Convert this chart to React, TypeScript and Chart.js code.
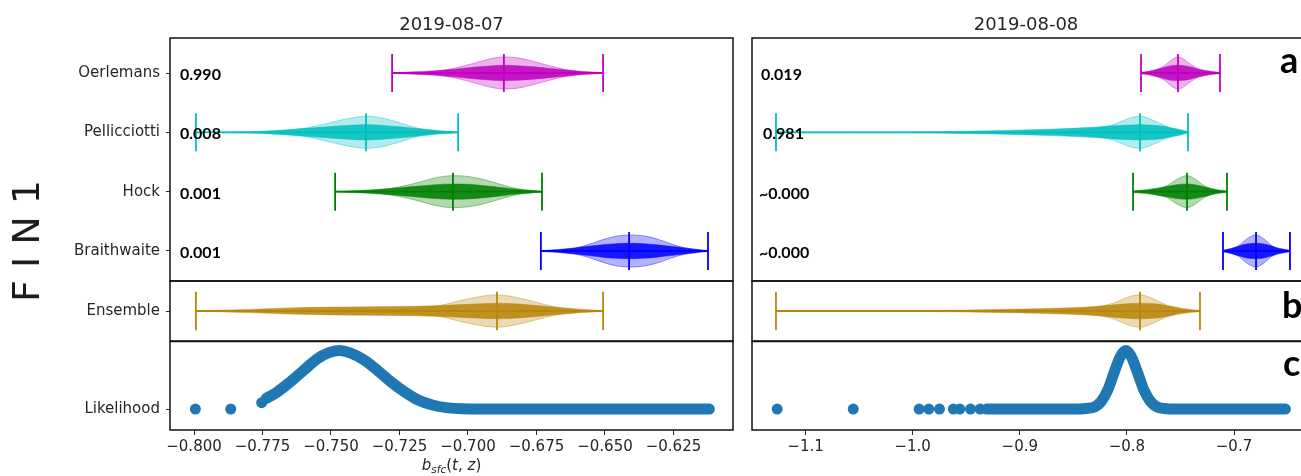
import React, { useEffect, useRef } from 'react';
import { Chart, registerables } from 'chart.js';

Chart.register(...registerables);

// ---------------- data ----------------
const MODELS = ['Oerlemans', 'Pellicciotti', 'Hock', 'Braithwaite'];
const MODEL_COLORS = ['#bf00bf', '#00bfbf', '#008000', '#0000ff'];
const ENSEMBLE_COLOR = '#b8860b';
const LIKELIHOOD_COLOR = '#1f77b4';
const DATES = ['2019-08-07', '2019-08-08'];
const LEFT_TICKS = [-0.8, -0.775, -0.75, -0.725, -0.7, -0.675, -0.65, -0.625];
const RIGHT_TICKS = [-1.1, -1.0, -0.9, -0.8, -0.7];
const PROB_LEFT = ['0.990', '0.008', '0.001', '0.001'];
const PROB_RIGHT = ['0.019', '0.981', '~0.000', '~0.000'];
const PANEL_LETTERS = ['a', 'b', 'c'];

// axis value ranges
const X_LEFT = { min: -0.80876, max: -0.60328 };
const X_RIGHT = { min: -1.15, max: -0.6426 };

// [min, median, max] of each violin
const STATS_LEFT = [
  [-0.7277, -0.6869, -0.6507],
  [-0.7993, -0.7372, -0.7036],
  [-0.7485, -0.7055, -0.673],
  [-0.6734, -0.6412, -0.6124],
];
const ENS_STATS_LEFT = [-0.7993, -0.6894, -0.6507];
const STATS_RIGHT = [
  [-0.7898, -0.7556, -0.7167],
  [-1.1278, -0.7907, -0.7463],
  [-0.7972, -0.7472, -0.7102],
  [-0.7139, -0.6833, -0.6519],
];
const ENS_STATS_RIGHT = [-1.1278, -0.7907, -0.7352];

// violin profiles: x, relative KDE width (body), relative sample density (core)
const L_OERL_X = [-0.7277, -0.72, -0.712, -0.705, -0.698, -0.692, -0.687, -0.682, -0.676, -0.67, -0.664, -0.658, -0.6507];
const L_OERL_BODY = [0, 0.02, 0.1, 0.3, 0.6, 0.88, 1.0, 0.95, 0.72, 0.44, 0.2, 0.05, 0];
const L_OERL_CORE = [0.05, 0.15, 0.3, 0.5, 0.75, 0.92, 1.0, 0.95, 0.8, 0.6, 0.4, 0.2, 0.05];

const L_PELL_X = [-0.7993, -0.785, -0.775, -0.766, -0.758, -0.75, -0.743, -0.737, -0.731, -0.724, -0.717, -0.71, -0.7036];
const L_PELL_BODY = [0, 0.01, 0.03, 0.1, 0.3, 0.62, 0.88, 1.0, 0.88, 0.55, 0.2, 0.05, 0];
const L_PELL_CORE = [0.02, 0.05, 0.15, 0.35, 0.55, 0.75, 0.92, 1.0, 0.9, 0.7, 0.45, 0.2, 0.05];

const L_HOCK_X = [-0.7485, -0.74, -0.732, -0.725, -0.718, -0.712, -0.7055, -0.7, -0.694, -0.688, -0.682, -0.676, -0.673];
const L_HOCK_BODY = [0, 0.03, 0.12, 0.3, 0.58, 0.86, 1.0, 0.95, 0.75, 0.45, 0.18, 0.04, 0];
const L_HOCK_CORE = [0.05, 0.15, 0.3, 0.5, 0.72, 0.9, 1.0, 0.95, 0.78, 0.55, 0.32, 0.15, 0.05];

const L_BRAI_X = [-0.6734, -0.667, -0.661, -0.656, -0.651, -0.646, -0.6412, -0.636, -0.631, -0.626, -0.621, -0.616, -0.6124];
const L_BRAI_BODY = [0, 0.05, 0.18, 0.4, 0.7, 0.92, 1.0, 0.95, 0.75, 0.45, 0.2, 0.05, 0];
const L_BRAI_CORE = [0.05, 0.2, 0.4, 0.6, 0.8, 0.95, 1.0, 0.95, 0.8, 0.6, 0.4, 0.2, 0.05];

const L_ENS_X = [-0.7993, -0.78, -0.765, -0.75, -0.735, -0.72, -0.71, -0.7, -0.6894, -0.68, -0.672, -0.665, -0.658, -0.6507];
const L_ENS_BODY = [0, 0.01, 0.03, 0.05, 0.08, 0.15, 0.35, 0.75, 1.0, 0.75, 0.4, 0.15, 0.03, 0];
const L_ENS_CORE = [0.02, 0.2, 0.4, 0.5, 0.55, 0.6, 0.7, 0.85, 1.0, 0.85, 0.6, 0.4, 0.2, 0.05];

const R_OERL_X = [-0.7898, -0.782, -0.775, -0.768, -0.762, -0.7556, -0.75, -0.744, -0.738, -0.731, -0.724, -0.7167];
const R_OERL_BODY = [0, 0.05, 0.2, 0.45, 0.8, 1.0, 0.85, 0.55, 0.3, 0.1, 0.03, 0];
const R_OERL_CORE = [0.1, 0.25, 0.5, 0.75, 0.95, 1.0, 0.95, 0.8, 0.55, 0.35, 0.2, 0.08];

const R_PELL_X = [-1.1278, -1.0, -0.95, -0.9, -0.87, -0.85, -0.83, -0.815, -0.8, -0.7907, -0.782, -0.772, -0.762, -0.752, -0.7463];
const R_PELL_BODY = [0, 0, 0.005, 0.02, 0.05, 0.1, 0.25, 0.5, 0.9, 1.0, 0.85, 0.55, 0.25, 0.06, 0];
const R_PELL_CORE = [0, 0.05, 0.15, 0.3, 0.42, 0.55, 0.7, 0.85, 0.95, 1.0, 0.95, 0.85, 0.6, 0.3, 0.1];

const R_HOCK_X = [-0.7972, -0.785, -0.775, -0.765, -0.757, -0.7472, -0.74, -0.733, -0.726, -0.719, -0.7102];
const R_HOCK_BODY = [0, 0.04, 0.15, 0.4, 0.75, 1.0, 0.8, 0.45, 0.2, 0.05, 0];
const R_HOCK_CORE = [0.1, 0.25, 0.45, 0.7, 0.9, 1.0, 0.9, 0.7, 0.45, 0.25, 0.08];

const R_BRAI_X = [-0.7139, -0.706, -0.699, -0.692, -0.6833, -0.676, -0.669, -0.662, -0.6519];
const R_BRAI_BODY = [0, 0.1, 0.35, 0.75, 1.0, 0.75, 0.35, 0.1, 0];
const R_BRAI_CORE = [0.1, 0.35, 0.65, 0.9, 1.0, 0.9, 0.65, 0.35, 0.1];

const R_ENS_X = [-1.1278, -1.0, -0.95, -0.9, -0.87, -0.85, -0.83, -0.815, -0.8, -0.7907, -0.782, -0.772, -0.762, -0.75, -0.7352];
const R_ENS_BODY = [0, 0, 0.005, 0.02, 0.05, 0.1, 0.25, 0.5, 0.9, 1.0, 0.85, 0.55, 0.25, 0.06, 0];
const R_ENS_CORE = [0, 0.05, 0.12, 0.25, 0.35, 0.45, 0.6, 0.8, 0.95, 1.0, 0.95, 0.85, 0.6, 0.3, 0.08];

// likelihood (relative)
const LIK_L_DOTS_X = [-0.7995, -0.7866, -0.7753];
const LIK_L_DOTS_Y = [0, 0, 0.11];
const LIK_L_X = [-0.7737, -0.77, -0.765, -0.76, -0.755, -0.751, -0.747, -0.743, -0.738, -0.733, -0.728, -0.723, -0.718, -0.713, -0.708, -0.702, -0.69, -0.6119];
const LIK_L_Y = [0.18, 0.28, 0.46, 0.66, 0.86, 0.96, 1.0, 0.96, 0.84, 0.66, 0.46, 0.29, 0.15, 0.07, 0.025, 0.005, 0, 0];

const LIK_R_DOTS_X = [-1.1265, -1.0555, -0.994, -0.985, -0.975, -0.962, -0.956, -0.946, -0.937];
const LIK_R_DOTS_Y = [0, 0, 0, 0, 0, 0, 0, 0, 0];
const LIK_R_X = [-0.931, -0.85, -0.838, -0.83, -0.824, -0.818, -0.812, -0.806, -0.801, -0.796, -0.79, -0.784, -0.778, -0.772, -0.765, -0.755, -0.652];
const LIK_R_Y = [0, 0, 0.01, 0.04, 0.13, 0.32, 0.62, 0.9, 1.0, 0.9, 0.62, 0.32, 0.13, 0.04, 0.01, 0, 0];

const LEFT_PROFILES = [
  [L_OERL_X, L_OERL_BODY, L_OERL_CORE],
  [L_PELL_X, L_PELL_BODY, L_PELL_CORE],
  [L_HOCK_X, L_HOCK_BODY, L_HOCK_CORE],
  [L_BRAI_X, L_BRAI_BODY, L_BRAI_CORE],
];
const RIGHT_PROFILES = [
  [R_OERL_X, R_OERL_BODY, R_OERL_CORE],
  [R_PELL_X, R_PELL_BODY, R_PELL_CORE],
  [R_HOCK_X, R_HOCK_BODY, R_HOCK_CORE],
  [R_BRAI_X, R_BRAI_BODY, R_BRAI_CORE],
];

// ---------------- styling ----------------
const FONT = "'DejaVu Sans', sans-serif";
const TEXT_COLOR = '#262626';
const BODY_HALF = 0.27;
const CORE_HALF = 0.13;
const CAP_HALF = 0.32;

Chart.defaults.font.family = FONT;

function rgba(hex: string, a: number) {
  const n = parseInt(hex.slice(1), 16);
  return `rgba(${(n >> 16) & 255},${(n >> 8) & 255},${n & 255},${a})`;
}

const fmtTick = (v: number, d: number) => (v < 0 ? '\u2212' : '') + Math.abs(v).toFixed(d);

function violinSets(row: number, stats: number[], xs: number[], body: number[], core: number[], color: string) {
  const pts = (arr: number[], s: number, sign: number) => xs.map((x, i) => ({ x, y: row + sign * arr[i] * s }));
  const [mn, md, mx] = stats;
  const c = CAP_HALF;
  const common: any = { pointRadius: 0, cubicInterpolationMode: 'monotone' };
  return [
    { ...common, data: pts(body, BODY_HALF, -1), borderColor: rgba(color, 0.4), borderWidth: 1, fill: false, order: 3 },
    { ...common, data: pts(body, BODY_HALF, 1), borderColor: rgba(color, 0.4), borderWidth: 1, fill: '-1', backgroundColor: rgba(color, 0.3), order: 3 },
    { ...common, data: pts(core, CORE_HALF, -1), borderColor: rgba(color, 0.55), borderWidth: 0.8, fill: false, order: 2 },
    { ...common, data: pts(core, CORE_HALF, 1), borderColor: rgba(color, 0.55), borderWidth: 0.8, fill: '-1', backgroundColor: rgba(color, 0.88), order: 2 },
    {
      data: [
        { x: mn, y: row - c }, { x: mn, y: row + c }, { x: mn, y: null },
        { x: mn, y: row }, { x: mx, y: row }, { x: mx, y: null },
        { x: mx, y: row - c }, { x: mx, y: row + c }, { x: md, y: null },
        { x: md, y: row - c }, { x: md, y: row + c },
      ],
      borderColor: color, borderWidth: 1.8, pointRadius: 0, spanGaps: false, fill: false, order: 1,
    },
  ];
}

function framePlugin(drawRight: boolean, title?: string) {
  return {
    id: 'frame',
    afterDraw(chart: any) {
      const { ctx, chartArea } = chart;
      const { left, top, right, bottom } = chartArea;
      ctx.save();
      ctx.strokeStyle = '#111';
      ctx.lineWidth = 1.5;
      ctx.beginPath();
      if (drawRight) {
        ctx.rect(left, top, right - left, bottom - top);
      } else {
        ctx.moveTo(right + 6, top);
        ctx.lineTo(left, top);
        ctx.lineTo(left, bottom);
        ctx.lineTo(right + 6, bottom);
      }
      ctx.stroke();
      if (title) {
        ctx.fillStyle = TEXT_COLOR;
        ctx.font = `18px ${FONT}`;
        ctx.textAlign = 'center';
        ctx.textBaseline = 'alphabetic';
        ctx.fillText(title, (left + right) / 2, 30);
      }
      ctx.restore();
    },
  };
}

function xAxis(range: any, ticks: number[], decimals: number, show: boolean) {
  return {
    type: 'linear', min: range.min, max: range.max, bounds: 'data', display: show,
    afterBuildTicks: (s: any) => { s.ticks = ticks.map((v) => ({ value: v })); },
    afterFit: (s: any) => {
      if (show) s.height = 46;
      s.paddingLeft = 0;
      s.paddingRight = 0;
    },
    ticks: { callback: (v: number) => fmtTick(v, decimals), font: { size: 15, family: FONT }, color: TEXT_COLOR, padding: 3, maxRotation: 0, autoSkip: false },
    grid: { display: true, drawOnChartArea: false, drawTicks: true, tickLength: 5, tickColor: TEXT_COLOR, tickWidth: 1 },
    border: { display: false },
  };
}

function yAxis(min: number, max: number, reverse: boolean, vals: number[], labels: string[], show: boolean) {
  return {
    type: 'linear', min, max, reverse, bounds: 'data', display: show,
    afterBuildTicks: (s: any) => { s.ticks = vals.map((v) => ({ value: v })); },
    afterFit: (s: any) => {
      if (show) s.width = 170;
      s.paddingTop = 0;
      s.paddingBottom = 0;
    },
    ticks: { callback: (_v: number, i: number) => labels[i], font: { size: 15, family: FONT }, color: TEXT_COLOR, padding: 6, autoSkip: false },
    grid: { display: true, drawOnChartArea: false, drawTicks: true, tickLength: 4, tickColor: TEXT_COLOR, tickWidth: 1 },
    border: { display: false },
  };
}

function baseOptions(isL: boolean, top: number, bottom: number, scales: any) {
  return {
    responsive: false,
    animation: false,
    devicePixelRatio: 1,
    events: [],
    layout: { padding: { top, bottom, left: isL ? 0 : 52, right: isL ? 12 : 1 } },
    plugins: { legend: { display: false }, tooltip: { enabled: false } },
    scales,
  };
}

function topConfig(isL: boolean) {
  const stats = isL ? STATS_LEFT : STATS_RIGHT;
  const profiles = isL ? LEFT_PROFILES : RIGHT_PROFILES;
  const datasets: any[] = [];
  MODELS.forEach((_m, i) => {
    const [xs, body, core] = profiles[i];
    datasets.push(...violinSets(i, stats[i], xs, body, core, MODEL_COLORS[i]));
  });
  return {
    type: 'line',
    data: { datasets },
    options: baseOptions(isL, 38, 9, {
      x: xAxis(isL ? X_LEFT : X_RIGHT, isL ? LEFT_TICKS : RIGHT_TICKS, isL ? 3 : 1, false),
      y: yAxis(-0.59, 3.506, true, [0, 1, 2, 3], MODELS, isL),
    }),
    plugins: [framePlugin(isL, isL ? DATES[0] : DATES[1])],
  };
}

function ensembleConfig(isL: boolean) {
  const [xs, body, core] = isL ? [L_ENS_X, L_ENS_BODY, L_ENS_CORE] : [R_ENS_X, R_ENS_BODY, R_ENS_CORE];
  const datasets = violinSets(0, isL ? ENS_STATS_LEFT : ENS_STATS_RIGHT, xs, body, core, ENSEMBLE_COLOR);
  return {
    type: 'line',
    data: { datasets },
    options: baseOptions(isL, 5, 5, {
      x: xAxis(isL ? X_LEFT : X_RIGHT, isL ? LEFT_TICKS : RIGHT_TICKS, isL ? 3 : 1, false),
      y: yAxis(-0.5, 0.5, true, [0], ['Ensemble'], isL),
    }),
    plugins: [framePlugin(isL)],
  };
}

function likelihoodConfig(isL: boolean) {
  const cx = isL ? LIK_L_X : LIK_R_X;
  const cy = isL ? LIK_L_Y : LIK_R_Y;
  const dx = isL ? LIK_L_DOTS_X : LIK_R_DOTS_X;
  const dy = isL ? LIK_L_DOTS_Y : LIK_R_DOTS_Y;
  const datasets: any[] = [
    {
      data: cx.map((x, i) => ({ x, y: cy[i] })),
      borderColor: LIKELIHOOD_COLOR, borderWidth: 11, borderCapStyle: 'round', borderJoinStyle: 'round',
      pointRadius: 0, cubicInterpolationMode: 'monotone', fill: false,
    },
    {
      data: dx.map((x, i) => ({ x, y: dy[i] })),
      showLine: false, pointRadius: 5.5, pointBackgroundColor: LIKELIHOOD_COLOR, pointBorderWidth: 0,
      borderColor: LIKELIHOOD_COLOR,
    },
  ];
  return {
    type: 'line',
    data: { datasets },
    options: baseOptions(isL, 5, 0, {
      x: xAxis(isL ? X_LEFT : X_RIGHT, isL ? LEFT_TICKS : RIGHT_TICKS, isL ? 3 : 1, true),
      y: yAxis(-0.356, 1.153, false, [0], ['Likelihood'], isL),
    }),
    plugins: [framePlugin(isL)],
  };
}

function ChartCanvas({ left, top, width, height, build }: any) {
  const ref = useRef<HTMLCanvasElement>(null);
  useEffect(() => {
    const chart = new Chart(ref.current as HTMLCanvasElement, build());
    return () => chart.destroy();
  }, []);
  return (
    <canvas
      ref={ref}
      width={width}
      height={height}
      style={{ position: 'absolute', left, top, width, height, display: 'block' }}
    />
  );
}

const ROW_Y = [74, 133, 193, 252];
const PROB_LEFT_X = [180, 180, 180, 180];
const PROB_RIGHT_X = [761, 763, 759, 759];
const LETTER_POS = [
  { left: 1280, top: 41 },
  { left: 1282, top: 286 },
  { left: 1283, top: 344 },
];

export default function App() {
  const probStyle: any = {
    position: 'absolute', fontFamily: "'Lato', sans-serif", fontWeight: 700, fontSize: 16,
    lineHeight: '20px', color: '#000', whiteSpace: 'pre',
  };
  return (
    <div style={{ position: 'absolute', left: 0, top: 0, width: 1301, height: 476, overflow: 'hidden', background: '#fff', fontFamily: FONT }}>
      <ChartCanvas left={0} top={0} width={745} height={290} build={() => topConfig(true)} />
      <ChartCanvas left={0} top={276} width={745} height={70} build={() => ensembleConfig(true)} />
      <ChartCanvas left={0} top={336} width={745} height={140} build={() => likelihoodConfig(true)} />
      <ChartCanvas left={700} top={0} width={601} height={290} build={() => topConfig(false)} />
      <ChartCanvas left={700} top={276} width={601} height={70} build={() => ensembleConfig(false)} />
      <ChartCanvas left={700} top={336} width={601} height={140} build={() => likelihoodConfig(false)} />

      {PROB_LEFT.map((t, i) => (
        <div key={'pl' + i} style={{ ...probStyle, left: PROB_LEFT_X[i], top: ROW_Y[i] - 10 }}>{t}</div>
      ))}
      {PROB_RIGHT.map((t, i) => (
        <div key={'pr' + i} style={{ ...probStyle, left: PROB_RIGHT_X[i], top: ROW_Y[i] - 10 }}>{t}</div>
      ))}

      {PANEL_LETTERS.map((t, i) => (
        <div key={'lt' + i} style={{ position: 'absolute', left: LETTER_POS[i].left, top: LETTER_POS[i].top, fontFamily: "'Lato', sans-serif", fontWeight: 700, fontSize: 36, lineHeight: '36px', color: '#000' }}>{t}</div>
      ))}

      <div style={{ position: 'absolute', left: 26, top: 241, transform: 'translate(-50%, -50%) rotate(-90deg)', fontFamily: FONT, fontSize: 38, lineHeight: '38px', color: '#1a1a1a', whiteSpace: 'pre' }}>
        F I N 1
      </div>

      <div style={{ position: 'absolute', left: 170, width: 563, top: 456, textAlign: 'center', fontFamily: FONT, fontSize: 15, lineHeight: '18px', color: TEXT_COLOR, whiteSpace: 'pre' }}>
        <i>b</i>
        <sub style={{ fontSize: 10.5, fontStyle: 'italic', verticalAlign: '-3px', lineHeight: 0 }}>sfc</sub>
        <span>(</span><i>t</i><span>, </span><i>z</i><span>)</span>
      </div>
    </div>
  );
}
